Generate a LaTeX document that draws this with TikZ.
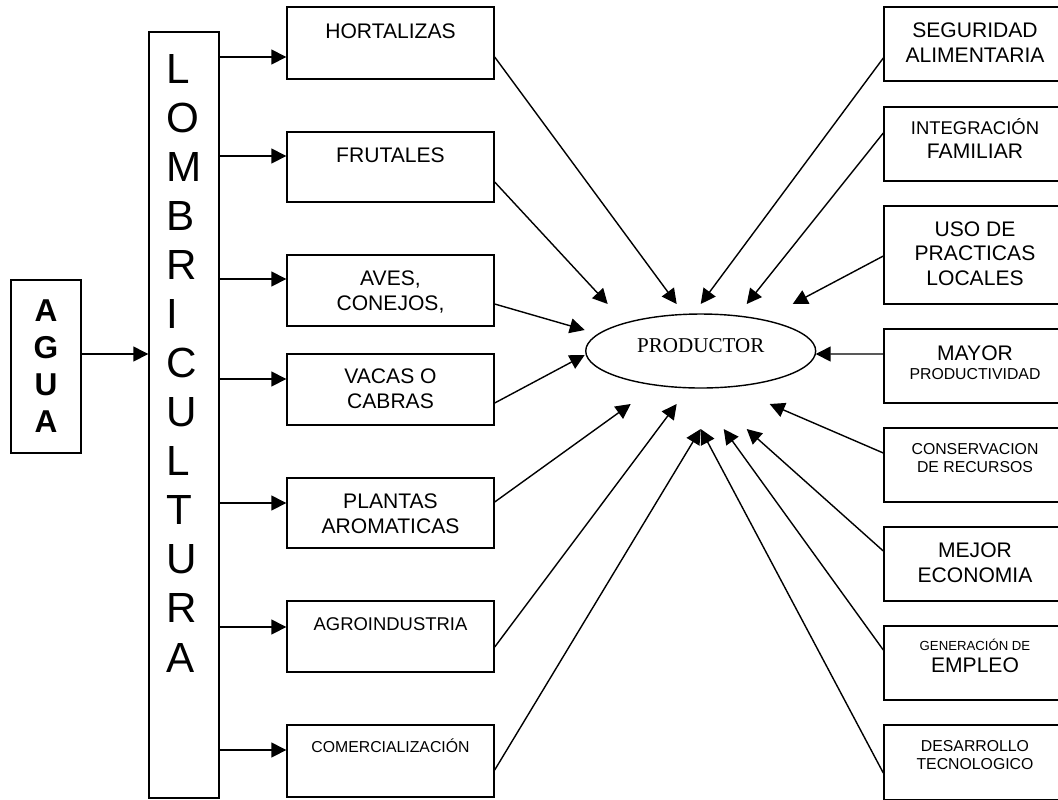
\documentclass[tikz,border=0pt]{standalone}
\usepackage{fontspec}
\setmainfont{Liberation Sans}
\newfontfamily\serifont{Liberation Serif}
\usetikzlibrary{arrows.meta, shapes.geometric}
\tikzset{
    every node/.style={inner sep=0pt},
    leftbox/.style={draw, line width=.8pt, minimum width=4.14cm, align=center,
        anchor=base, font=\fontsize{12}{13.8}\selectfont},
    rightbox/.style={leftbox, minimum width=3.64cm},
    toprod/.style={-{Triangle[length=8.5pt, width=8.5pt]}, line width=.8pt},
}

\begin{document}
\begin{tikzpicture}[x=.02cm, y=-.02cm]
    \useasboundingbox (0, 0) rectangle (1058, 799);
    % base = baseline of the last line
    \node[leftbox, minimum width=1.4cm, text height=3.04cm, text depth=.42cm,
        font=\fontsize{18}{20.9}\selectfont\bfseries] (agua) at (46, 432)
        {A\\G\\U\\A};
    \node[leftbox, minimum width=1.4cm, align=left, text height=12.8cm,
        text depth=2.52cm, font=\fontsize{24}{27.9}\selectfont] (lomb)
        at (184, 672) {L\\O\\M\\B\\R\\I\\C\\U\\L\\T\\U\\R\\A};
    % left column
    \node[leftbox, text height=.62cm, text depth=.82cm] (hort) at (390.5, 38)
        {HORTALIZAS};
    \node[leftbox, text height=.60cm, text depth=.80cm] (frut) at (390.5, 162)
        {FRUTALES};
    \node[leftbox, text height=1.10cm, text depth=.32cm] (aves) at (390.5, 310)
        {AVES,\\CONEJOS,};
    \node[leftbox, text height=1.08cm, text depth=.34cm] (vacas) at (390.5, 408)
        {VACAS O\\CABRAS};
    \node[leftbox, text height=1.10cm, text depth=.30cm] (plant) at (390.5, 533)
        {PLANTAS\\AROMATICAS};
    \node[leftbox, text height=.58cm, text depth=.84cm,
        font=\fontsize{10.5}{12.5}\selectfont] (agro) at (390.5, 630)
        {AGROINDUSTRIA};
    \node[leftbox, text height=.54cm, text depth=.90cm,
        font=\fontsize{9}{11}\selectfont] (comer) at (390.5, 752)
        {COMERCIALIZACIÓN};
    % right column
    \node[rightbox, text height=1.10cm, text depth=.38cm] (segu) at (975, 62)
        {SEGURIDAD\\ALIMENTARIA};
    \node[rightbox, text height=1.02cm, text depth=.46cm,
        font=\fontsize{12}{13.1}\selectfont] (integ) at (975, 158)
        {{\fontsize{10.5}{13}\selectfont INTEGRACIÓN}\\FAMILIAR};
    \node[rightbox, text height=1.58cm, text depth=.38cm,
        font=\fontsize{12}{13.9}\selectfont] (uso) at (975, 285)
        {USO DE\\PRACTICAS\\LOCALES};
    \node[rightbox, text height=1.00cm, text depth=.48cm,
        font=\fontsize{12}{10.8}\selectfont] (mayor) at (975, 379)
        {MAYOR\\{\fontsize{9}{10.8}\selectfont PRODUCTIVIDAD}};
    \node[rightbox, text height=.88cm, text depth=.60cm,
        font=\fontsize{9}{10.2}\selectfont] (conse) at (975, 472)
        {CONSERVACION\\DE RECURSOS};
    \node[rightbox, text height=1.10cm, text depth=.38cm] (mejor) at (975, 582)
        {MEJOR\\ECONOMIA};
    \node[rightbox, text height=.92cm, text depth=.56cm,
        font=\fontsize{12}{12.5}\selectfont] (gener) at (975, 672)
        {{\fontsize{7.5}{9}\selectfont GENERACIÓN DE}\\EMPLEO};
    \node[rightbox, text height=.88cm, text depth=.62cm,
        font=\fontsize{9}{9.7}\selectfont] (desar) at (975, 769)
        {DESARROLLO\\TECNOLOGICO};
    \node[draw, ellipse, line width=.8pt, minimum width=4.6cm,
        minimum height=1.48cm, anchor=base, text height=.4cm, text depth=.36cm,
        font=\serifont\fontsize{12}{14}\selectfont] (prod) at (700.7, 352)
        {PRODUCTOR};
    % arrows
    \draw[toprod] (agua.east |- 0, 354) -- (lomb.west |- 0, 354);
    \foreach \n/\y in {hort/57, frut/156, aves/279, vacas/379, plant/503,
        agro/627, comer/750}
        \draw[toprod] (lomb.east |- 0, \y) -- (\n.west |- 0, \y);
    \foreach \n/\y/\dx/\dy in {hort/57/-24/-47, frut/182/-93/-47,
        aves/304/-116/-21, vacas/403/-116/4, plant/502/-70/53, agro/647/-24/53,
        comer/770/0/78}
        \draw[toprod] (\n.east |- 0, \y) -- ([shift={(\dx, \dy)}]prod.center);
    \foreach \n/\y/\dx/\dy in {segu/58/0/-47, integ/133/46/-47, uso/256/92/-47,
        mayor/354/115/3, conse/453/69/53, mejor/551/46/78, gener/650/23/78,
        desar/773/0/78}
        \draw[toprod] (\n.west |- 0, \y) -- ([shift={(\dx, \dy)}]prod.center);
\end{tikzpicture}
\end{document}
